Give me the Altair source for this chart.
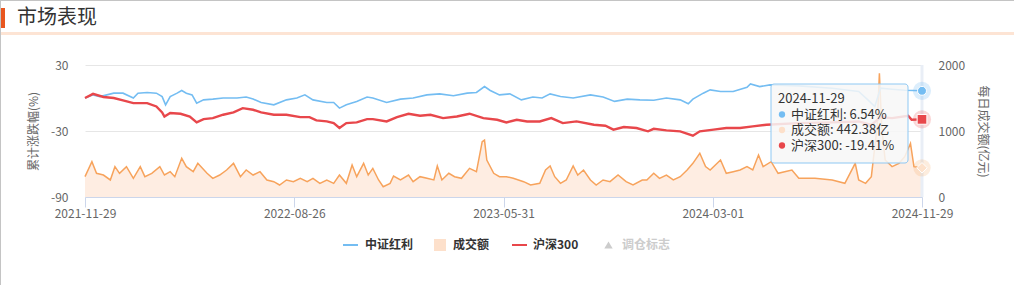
import json
import altair as alt
import pandas as pd

# ---------------- data ----------------
x_tick_labels = ["2021-11-29", "2022-08-26", "2023-05-31", "2024-03-01", "2024-11-29"]
N_DAYS = 727  # trading days between first and last label

series_names = ["中证红利", "成交额", "沪深300", "调仓标志"]

csi_day = [0, 7, 13, 25, 33, 42, 46, 54, 62, 67, 70, 74, 80, 84, 88, 93, 97, 103, 111, 120,
           132, 140, 146, 153, 164, 175, 184, 191, 198, 210, 216, 221, 227, 236, 245, 250, 262, 274, 285, 297,
           308, 320, 332, 340, 347, 352, 360, 369, 379, 389, 397, 404, 413, 424, 439, 450, 460, 471, 482, 494,
           505, 517, 524, 528, 537, 543, 552, 563, 575, 578, 586, 595, 620, 649, 672, 680, 686, 691, 701, 712, 727]
csi_val = [0, 2.85, 1.3, 4.4, 4.4, 0, 4.4, 5, 4.4, 1.3, -6.2, 1.3, 4.4, 6.8, 4.4, 2.85, -4.7, -1.7, -1, 0,
           0, 0.9, -1, -4.1, -6.2, -1.7, 0, 2.85, -1.7, -4.1, -4.1, -9.2, -6.2, -3.1, 0.9, 0, -4.1, -1, 0, 2.85,
           3.75, 2, 4.4, 5, 10.4, 6.8, 2.85, 3.75, -1.7, 0.9, 0, 3.75, 1.3, 0, 2.85, 0.9, -3.1, -1, -1.7, -2.1,
           0, -1.7, -5.3, -1, 4.4, 7.4, 5.9, 5.9, 9.8, 12.8, 10.4, 11.9, 11, 8.9, 5.9, -1.7, -7.7, 8.9, 8, 7, 6.54]

hs_day = [0, 7, 16, 25, 33, 42, 54, 62, 67, 69, 74, 83, 91, 97, 103, 111, 120, 129, 137, 146,
          153, 164, 175, 187, 195, 201, 210, 216, 221, 227, 236, 245, 250, 262, 271, 281, 291, 300, 311, 323,
          334, 346, 358, 366, 375, 384, 395, 405, 415, 427, 442, 452, 459, 468, 479, 489, 494, 505, 517, 528,
          534, 546, 557, 569, 580, 592, 620, 649, 672, 683, 691, 701, 715, 718, 727]
hs_val = [0, 3.75, 0.9, 0, -2.1, -4.7, -4.7, -7.7, -13.1, -16.8, -13.7, -14.3, -16.8, -22.2, -19.2, -18.3, -15.2, -13.1, -9.2, -10.7,
          -13.1, -15.2, -15.2, -17.4, -17.4, -20.4, -21.3, -22.8, -27.3, -22.8, -22.2, -19.2, -19.2, -21.3, -17.4, -14.3, -16.1, -15.2, -18.3, -16.8,
          -14.3, -18.3, -19.8, -22.2, -19.8, -21.3, -21.3, -18.3, -22.8, -21.3, -24.3, -25.2, -28.8, -26.4, -27.3, -30.3, -28, -29.4, -30.3, -34.3,
          -30.3, -28.8, -27.3, -27.3, -25.8, -24.3, -22.8, -22.2, -21.3, -24.5, -17.4, -18.3, -16.1, -19.8, -19.41]

vol_day = [0, 6, 10, 16, 22, 26, 30, 36, 42, 48, 52, 58, 65, 69, 74, 78, 84, 88, 94, 98,
           106, 111, 117, 123, 129, 135, 140, 146, 152, 158, 164, 169, 175, 181, 187, 193, 198, 204, 210, 216,
           221, 227, 232, 236, 242, 246, 250, 255, 259, 265, 268, 274, 281, 285, 291, 297, 303, 306, 310, 316,
           321, 327, 334, 340, 345, 347, 349, 355, 360, 366, 372, 381, 387, 395, 400, 404, 408, 413, 418, 424,
           428, 433, 439, 444, 450, 456, 463, 470, 476, 484, 488, 494, 499, 505, 511, 517, 523, 528, 534, 539,
           543, 552, 557, 563, 569, 575, 580, 585, 589, 596, 602, 614, 620, 634, 649, 660, 669, 672, 678, 683,
           688, 690, 692, 695, 701, 707, 712, 717, 720, 727]
vol_val = [308, 535, 359, 333, 258, 460, 359, 460, 283, 460, 308, 359, 460, 333, 384, 308, 586, 460, 384, 510,
           359, 283, 333, 409, 510, 308, 409, 333, 384, 258, 232, 182, 258, 232, 283, 232, 283, 207, 258, 207,
           333, 207, 485, 308, 510, 333, 434, 258, 156, 207, 318, 258, 333, 232, 308, 283, 258, 470, 258, 359,
           308, 283, 434, 384, 838, 863, 561, 359, 308, 308, 283, 232, 182, 207, 409, 470, 308, 207, 258, 470,
           333, 409, 258, 182, 258, 232, 333, 232, 182, 258, 258, 359, 283, 333, 258, 308, 409, 510, 662, 460,
           409, 561, 359, 384, 409, 460, 409, 636, 460, 535, 359, 409, 283, 283, 258, 207, 510, 258, 207, 308,
           1065, 1874, 1065, 561, 460, 510, 611, 813, 460, 442.38]

csi = pd.DataFrame({"day": csi_day, "val": csi_val})
hs = pd.DataFrame({"day": hs_day, "val": hs_val})
vol = pd.DataFrame({"day": vol_day, "vol": vol_val})

# ---------------- style ----------------
W, H = 837, 132
PAD = {"left": 85, "top": 65, "right": 92, "bottom": 88}
FONT = "Noto Sans CJK SC"
BLUE = "#74bdf2"
RED = "#e8474b"
ORANGE = "#f7a35c"
PEACH = "#fde5d5"
AXIS_LINE = "#ccd6eb"
TXT = "#666666"

step = N_DAYS / (len(x_tick_labels) - 1)
tick_vals = [i * step for i in range(len(x_tick_labels))]
label_expr = f"{json.dumps(x_tick_labels)}[round(datum.value / {step})]"

x_enc = alt.X(
    "day:Q",
    scale=alt.Scale(domain=[0, N_DAYS], nice=False, zero=False),
    axis=alt.Axis(values=tick_vals, labelExpr=label_expr, title=None, grid=False,
                  domainColor=AXIS_LINE, tickColor=AXIS_LINE, tickSize=10,
                  labelPadding=6, labelBaseline="middle", labelColor=TXT, labelFontSize=12,
                  labelOverlap=False, labelFlush=False),
)

y_left = alt.Y(
    "val:Q",
    scale=alt.Scale(domain=[-90, 30], nice=False, zero=False),
    axis=alt.Axis(orient="left", values=[-90, -30, 30], labelExpr="'' + datum.value",
                  grid=True, gridColor="#e6e6e6", domain=False, ticks=False, tickSize=0,
                  labelPadding=17, labelColor=TXT, labelFontSize=12,
                  title="累计涨跌幅(%)", titleAngle=-90, titleX=-52, titleY=H / 2,
                  titleAlign="center", titleBaseline="middle", titleColor=TXT,
                  titleFontSize=12, titleFontWeight="normal"),
)

y_right = alt.Y(
    "vol:Q",
    scale=alt.Scale(domain=[0, 2000], nice=False, zero=True),
    axis=alt.Axis(orient="right", values=[0, 1000, 2000], labelExpr="'' + datum.value",
                  grid=False, domain=False,
                  ticks=False, tickSize=0, labelPadding=16, labelColor=TXT, labelFontSize=12,
                  title="每日成交额(亿元)", titleAngle=90, titleX=60, titleY=H / 2,
                  titleAlign="center", titleBaseline="middle", titleColor=TXT,
                  titleFontSize=12, titleFontWeight="normal"),
)

one = pd.DataFrame({"a": [0]})

# ---------------- volume (right axis) ----------------
vol_last = pd.DataFrame({"day": [vol_day[-1]], "vol": [vol_val[-1]]})
area = alt.Chart(vol).mark_area(
    color=PEACH, line={"color": ORANGE, "strokeWidth": 1.5}
).encode(x=x_enc, y=y_right)
crosshair = alt.Chart(pd.DataFrame({"day": [csi_day[-1]]})).mark_rule(
    color="#e9eef6", strokeWidth=3
).encode(x=x_enc, y=alt.value(0), y2=alt.value(H))
vol_halo = alt.Chart(vol_last).mark_point(
    shape="circle", filled=True, size=300, color=ORANGE, opacity=0.2
).encode(x=x_enc, y=y_right)
vol_marker = alt.Chart(vol_last).mark_point(
    shape="diamond", filled=True, size=110, color="#fde2cc", stroke="white", strokeWidth=1, opacity=1
).encode(x=x_enc, y=y_right)
vol_group = alt.layer(area, crosshair, vol_halo, vol_marker)

# ---------------- index lines (left axis) ----------------
csi_line = alt.Chart(csi).mark_line(color=BLUE, strokeWidth=1.6).encode(x=x_enc, y=y_left)
hs_line = alt.Chart(hs).mark_line(color=RED, strokeWidth=2.4).encode(x=x_enc, y=y_left)
csi_last = pd.DataFrame({"day": [csi_day[-1]], "val": [csi_val[-1]]})
hs_last = pd.DataFrame({"day": [hs_day[-1]], "val": [hs_val[-1]]})
csi_halo = alt.Chart(csi_last).mark_point(shape="circle", filled=True, size=330, color=BLUE, opacity=0.25).encode(x=x_enc, y=y_left)
csi_dot = alt.Chart(csi_last).mark_point(shape="circle", filled=True, size=80, color=BLUE, stroke="white", strokeWidth=1, opacity=1).encode(x=x_enc, y=y_left)
hs_halo = alt.Chart(hs_last).mark_point(shape="circle", filled=True, size=330, color=RED, opacity=0.22).encode(x=x_enc, y=y_left)
hs_sq = alt.Chart(hs_last).mark_point(shape="square", filled=True, size=95, color=RED, stroke="white", strokeWidth=1, opacity=1).encode(x=x_enc, y=y_left)
left_group = alt.layer(csi_line, hs_line, csi_halo, csi_dot, hs_halo, hs_sq)

# ---------------- tooltip ----------------
tip_box = alt.Chart(one).mark_rect(
    fill="#f7f7f7", fillOpacity=0.86, stroke="#8ec8f3", strokeWidth=1, cornerRadius=3
).encode(x=alt.value(686), x2=alt.value(823), y=alt.value(19), y2=alt.value(98))
tip_lines = [
    (x_tick_labels[-1], None, 34),
    (f"{series_names[0]}: {csi_val[-1]:.2f}%", BLUE, 49.5),
    (f"{series_names[1]}: {vol_val[-1]:.2f}亿", "#fde0ca", 65),
    (f"{series_names[2]}: {hs_val[-1]:.2f}%", RED, 80.5),
]
tip_layers = [tip_box]
for txt, col, yy in tip_lines:
    if col is None:
        tip_layers.append(alt.Chart(one).mark_text(text=txt, align="left", baseline="middle", fontSize=13, color="#333333")
                          .encode(x=alt.value(693), y=alt.value(yy)))
    else:
        tip_layers.append(alt.Chart(one).mark_point(shape="circle", filled=True, size=40, color=col, opacity=1)
                          .encode(x=alt.value(697), y=alt.value(yy)))
        tip_layers.append(alt.Chart(one).mark_text(text=txt, align="left", baseline="middle", fontSize=13, color="#333333")
                          .encode(x=alt.value(706), y=alt.value(yy)))

# ---------------- legend ----------------
LY = 180
legend_layers = [
    alt.Chart(one).mark_rule(color=BLUE, strokeWidth=2).encode(x=alt.value(258), x2=alt.value(273), y=alt.value(LY)),
    alt.Chart(one).mark_text(text=series_names[0], align="left", baseline="middle", fontSize=12, fontWeight="bold", color="#333333").encode(x=alt.value(280), y=alt.value(LY)),
    alt.Chart(one).mark_rect(fill="#fde0cb").encode(x=alt.value(349), x2=alt.value(361), y=alt.value(LY - 6), y2=alt.value(LY + 6)),
    alt.Chart(one).mark_text(text=series_names[1], align="left", baseline="middle", fontSize=12, fontWeight="bold", color="#333333").encode(x=alt.value(368), y=alt.value(LY)),
    alt.Chart(one).mark_rule(color=RED, strokeWidth=2).encode(x=alt.value(427), x2=alt.value(442), y=alt.value(LY)),
    alt.Chart(one).mark_text(text=series_names[2], align="left", baseline="middle", fontSize=12, fontWeight="bold", color="#333333").encode(x=alt.value(448), y=alt.value(LY)),
    alt.Chart(one).mark_point(shape="triangle-up", filled=True, size=70, color="#cccccc", opacity=1).encode(x=alt.value(523.5), y=alt.value(LY)),
    alt.Chart(one).mark_text(text=series_names[3], align="left", baseline="middle", fontSize=12, fontWeight="bold", color="#cccccc").encode(x=alt.value(537), y=alt.value(LY)),
]

# ---------------- header / frame ----------------
header_layers = [
    alt.Chart(one).mark_rule(color="#c4c4c4", strokeWidth=1).encode(x=alt.value(-85), x2=alt.value(929), y=alt.value(-64.5)),
    alt.Chart(one).mark_rule(color="#c4c4c4", strokeWidth=1).encode(x=alt.value(-84.5), y=alt.value(-65), y2=alt.value(220)),
    alt.Chart(one).mark_rect(fill="#e8561f").encode(x=alt.value(-84), x2=alt.value(-80), y=alt.value(-57), y2=alt.value(-37)),
    alt.Chart(one).mark_text(text="市场表现", align="left", baseline="middle", fontSize=20, color="#333333").encode(x=alt.value(-68), y=alt.value(-47)),
    alt.Chart(one).mark_rect(fill="#fde4d4").encode(x=alt.value(-84), x2=alt.value(929), y=alt.value(-33), y2=alt.value(-30)),
]

chart = alt.layer(
    vol_group, left_group, *tip_layers, *legend_layers, *header_layers
).resolve_scale(y="independent").properties(
    width=W, height=H, padding=PAD, autosize=alt.AutoSizeParams(type="none")
).configure(
    font=FONT, background="white", view=alt.ViewConfig(stroke=None)
)

chart.save("out.html", embed_options={"renderer": "svg", "actions": False})
